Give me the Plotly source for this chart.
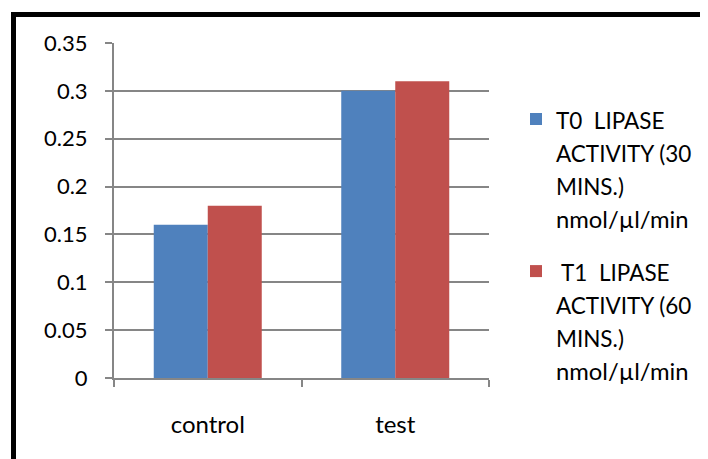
import plotly.graph_objects as go

categories = ["control", "test"]
t0_values = [0.16, 0.30]
t1_values = [0.18, 0.31]
t0_lines = ["T0  LIPASE", "ACTIVITY (30", "MINS.)", "nmol/µl/min"]
t1_lines = [" T1  LIPASE", "ACTIVITY (60", "MINS.)", "nmol/µl/min"]
y_ticks = [0, 0.05, 0.1, 0.15, 0.2, 0.25, 0.3, 0.35]
y_ticktext = ["0", "0.05", "0.1", "0.15", "0.2", "0.25", "0.3", "0.35"]

FONT = "Lato"
OFF = 8  # page body margin

def styled(lines):
    out = []
    for p in lines:
        size = 23.8 if p.islower() or "µ" in p else 22.5
        out.append('<span style="font-size:%spx">%s</span>' % (size, p))
    return "<br>".join(out)

fig = go.Figure()
fig.add_trace(go.Bar(x=categories, y=t0_values, name=styled(t0_lines),
                     marker=dict(color="#4f81bd", line=dict(width=0)), legendgroup="a"))
fig.add_trace(go.Bar(x=categories, y=t1_values, name=styled(t1_lines),
                     marker=dict(color="#c0504d", line=dict(width=0)), legendgroup="b"))

L, R, T, B = 114 - OFF, 489 - OFF, 43 - OFF, 378 - OFF
W, H = 708 - OFF, 459 - OFF
pw, ph = R - L, B - T

def px(x):
    return (x - OFF - L) / pw

def py(y):
    return 1 - (y - OFF - T) / ph

fig.update_layout(
    width=W, height=H,
    margin=dict(l=L, r=W - R, t=T, b=H - B, autoexpand=False),
    paper_bgcolor="white", plot_bgcolor="white",
    font=dict(family=FONT, size=22, color="black"),
    barmode="group", bargap=0.424, bargroupgap=0,
    showlegend=True,
    legend=dict(x=px(516), y=py(96), xanchor="left", yanchor="top",
                font=dict(family=FONT, size=25.4, color="black"),
                traceorder="grouped", tracegroupgap=17, valign="top",
                bgcolor="rgba(0,0,0,0)"),
    xaxis=dict(type="category", tickson="boundaries", ticks="outside", ticklen=7,
               tickwidth=2, tickcolor="#868686", showline=True, linecolor="#868686",
               linewidth=2, showgrid=False, ticklabelstandoff=24,
               tickfont=dict(family=FONT, size=24, color="black")),
    yaxis=dict(range=[0, 0.35], tickvals=y_ticks, ticktext=y_ticktext, ticks="outside",
               ticklen=7, tickwidth=2, tickcolor="#868686", showline=True,
               linecolor="#868686", linewidth=2, showgrid=True, gridcolor="#868686",
               gridwidth=2, zeroline=False, ticklabelstandoff=13,
               tickfont=dict(family=FONT, size=22, color="black")),
    shapes=[dict(type="rect", xref="paper", yref="paper",
                 x0=px(13.5), x1=px(900), y0=py(14.5), y1=py(700),
                 line=dict(color="black", width=5), fillcolor="rgba(0,0,0,0)",
                 layer="above")],
)

fig.write_html("out.html")
